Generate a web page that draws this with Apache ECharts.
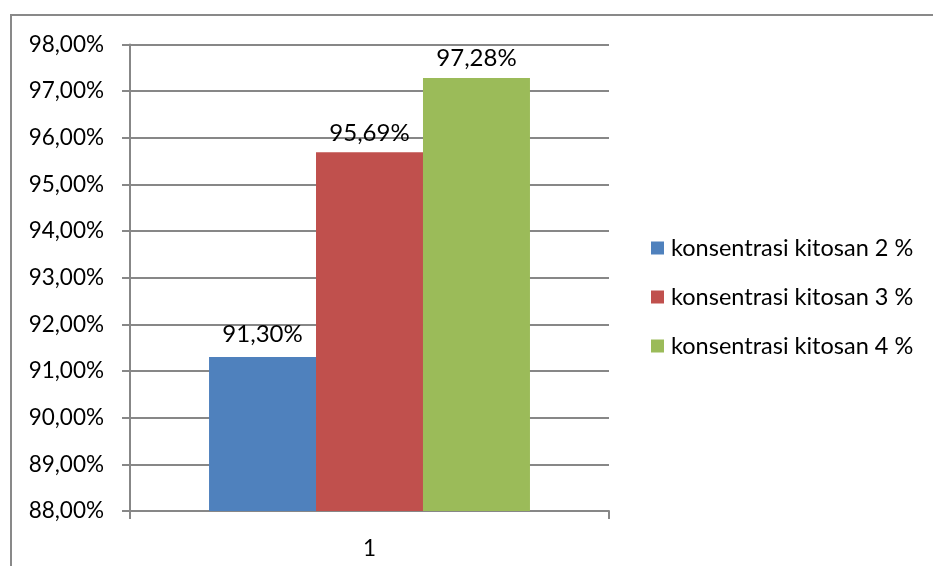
<!DOCTYPE html>
<html>
<head>
<meta charset="utf-8">
<script src="https://cdn.jsdelivr.net/npm/echarts@6/dist/echarts.min.js"></script>
<style>
  html, body { margin: 0; padding: 0; background: #fff; }
  #chart { width: 933px; height: 566px; }
</style>
</head>
<body>
<div id="chart"></div>
<script>
// Chitosan concentration results (percent)
const categories = ['1'];
const seriesNames = ['konsentrasi kitosan 2 %', 'konsentrasi kitosan 3 %', 'konsentrasi kitosan 4 %'];
const seriesValues = [[91.30], [95.69], [97.28]];
const seriesColors = ['#4f81bd', '#c0504d', '#9bbb59'];
const yMin = 88, yMax = 98, yStep = 1;

const fontFamily = 'Lato, "Open Sans", sans-serif';
const fmt = v => v.toFixed(2).replace('.', ',') + '%';
const labelDistances = [11, 7, 8];

const chart = echarts.init(document.getElementById('chart'));
chart.setOption({
  animation: false,
  backgroundColor: '#fff',
  graphic: [{
    type: 'polyline',
    shape: { points: [[11, 600], [11, 15], [940, 15]] },
    style: { stroke: '#898989', lineWidth: 2, fill: null },
    silent: true
  }],
  legend: {
    orient: 'vertical',
    left: 646,
    top: 231,
    itemWidth: 13,
    itemHeight: 13,
    itemGap: 25,
    icon: 'rect',
    textStyle: { fontFamily, fontSize: 23.5, color: '#000', padding: [0, 0, 0, 2] },
    data: seriesNames
  },
  grid: { left: 130, right: 324, top: 44.5, bottom: 55, containLabel: false },
  xAxis: {
    type: 'category',
    data: categories,
    axisLine: { lineStyle: { color: '#878787', width: 2 } },
    axisTick: { show: true, length: 8, alignWithLabel: false, lineStyle: { color: '#878787', width: 2 } },
    axisLabel: { fontFamily, fontSize: 22.5, color: '#000', margin: 26 }
  },
  yAxis: {
    type: 'value',
    min: yMin,
    max: yMax,
    interval: yStep,
    axisLine: { show: true, lineStyle: { color: '#878787', width: 2 } },
    axisTick: { show: true, length: 8, lineStyle: { color: '#878787', width: 2 } },
    splitLine: { lineStyle: { color: '#878787', width: 2 } },
    axisLabel: { fontFamily, fontSize: 22.5, color: '#000', margin: 26, formatter: v => fmt(v) }
  },
  series: seriesNames.map((name, i) => ({
    name,
    type: 'bar',
    data: seriesValues[i],
    itemStyle: { color: seriesColors[i] },
    barGap: '0%',
    barCategoryGap: '33%',
    label: {
      show: true,
      position: 'top',
      distance: labelDistances[i],
      fontFamily,
      fontSize: 24,
      color: '#000',
      formatter: p => fmt(p.value)
    }
  }))
});
</script>
</body>
</html>
